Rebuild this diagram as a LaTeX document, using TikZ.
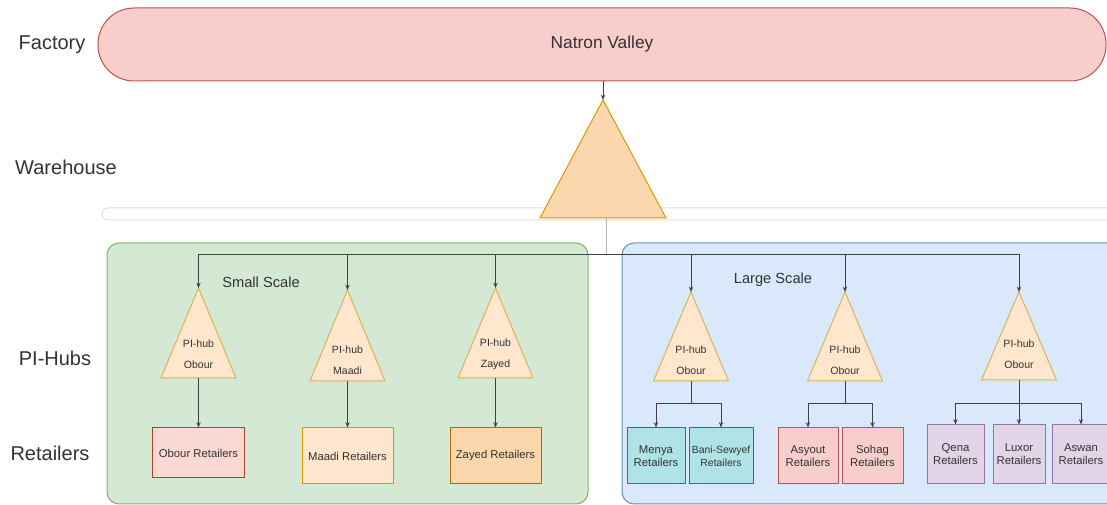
\documentclass[tikz,border=0pt]{standalone}
\usepackage{fontspec}
\setmainfont{Liberation Sans}
\usetikzlibrary{arrows.meta,calc}
\definecolor{txt}{HTML}{333333}
\definecolor{facF}{HTML}{F8CECC}\definecolor{facD}{HTML}{B85450}
\definecolor{whF}{HTML}{FAD7AC}\definecolor{whD}{HTML}{D79B00}
\definecolor{grF}{HTML}{D5E8D4}\definecolor{grD}{HTML}{82B366}
\definecolor{blF}{HTML}{DAE8FC}\definecolor{blD}{HTML}{6C8EBF}
\definecolor{hubF}{HTML}{FFE6CC}\definecolor{hubD}{HTML}{D6B656}
\definecolor{obF}{HTML}{FAD9D5}\definecolor{obD}{HTML}{AE4132}
\definecolor{maF}{HTML}{FFE6CC}\definecolor{maD}{HTML}{D79B00}
\definecolor{zaF}{HTML}{FAD7AC}\definecolor{zaD}{HTML}{B46504}
\definecolor{cyF}{HTML}{B0E3E6}\definecolor{cyD}{HTML}{0E8088}
\definecolor{rdF}{HTML}{F8CECC}\definecolor{rdD}{HTML}{B85450}
\definecolor{puF}{HTML}{E1D5E7}\definecolor{puD}{HTML}{9673A6}
\tikzset{
  lvl/.style={text=txt,font=\fontsize{15}{18}\selectfont},
  scalelbl/.style={text=txt,font=\fontsize{11}{13}\selectfont},
  hubtri/.style={fill=hubF,draw=hubD,line width=0.75pt,line join=miter},
  hubtxt/.style={text=txt,align=center,font=\fontsize{7.9}{15.75}\selectfont,inner sep=0pt},
  retail/.style={rectangle,line width=0.75pt,text=txt,align=center,inner sep=0pt,
    font=\fontsize{8.5}{9.75}\selectfont},
  lline/.style={draw=black!75,line width=0.75pt},
  conn/.style={lline,-{Stealth[length=4pt,width=3.2pt]}},
}
\begin{document}
\begin{tikzpicture}[x=0.75pt,y=-0.75pt]
\clip (0,0) rectangle (1107,505);
\fill[white] (0,0) rectangle (1107,505);
% containers
\draw[fill=grF,draw=grD,line width=0.75pt,rounded corners=9pt] (107,243) rectangle (588,504);
\draw[fill=blF,draw=blD,line width=0.75pt,rounded corners=9pt] (622,243) rectangle (1125,504);
% faint bar
\draw[draw=black!12,fill=white,line width=0.75pt,rounded corners=4.5pt] (102,208) rectangle (1120,220);
% factory
\node[rectangle,rounded corners=27pt,fill=facF,draw=facD,line width=0.75pt,
  minimum width=756pt,minimum height=54.75pt,text=txt,font=\fontsize{13}{15}\selectfont]
  (fac) at (602,44.5) {Natron Valley};
% level labels
\node[lvl] (lf) at (52,45) {Factory};
\node[lvl] (lw) at (66,167) {Warehouse};
\node[lvl] (lp) at (55,358) {PI-Hubs};
\node[lvl] (lr) at (50,453) {Retailers};
\node[scalelbl] (ss) at (261,282) {Small Scale};
\node[scalelbl] (ls) at (773,280) {Large Scale};
% warehouse
\draw[fill=whF,draw=whD,line width=0.75pt] (540,218) -- (603,100) -- (666,218) -- cycle;
\coordinate (wtop) at (603,100);
\coordinate (wbot) at (606,218);
\coordinate (bus) at (606,255);
% hubs
\foreach \n/\x/\a/\b/\ty/\t in {h1/198.5/288/378/354.5/Obour,h2/347.5/290/381/360.5/Maadi,h3/495.5/288/378/354.5/Zayed,
  h4/691/292/381/360.5/Obour,h5/845/292/381/360.5/Obour,h6/1019/292/380/354.5/Obour}{
  \draw[hubtri] (\x-37.5,\b) -- (\x,\a) -- (\x+37.5,\b) -- cycle;
  \coordinate (\n top) at (\x,\a);
  \coordinate (\n bot) at (\x,\b);
  \node[hubtxt] (\n) at (\x,\ty) {PI-hub\\\t};
}
% retailers small
\node[retail,fill=obF,draw=obD,minimum width=69pt,minimum height=37.5pt] (rob) at (198.5,453) {Obour Retailers};
\node[retail,fill=maF,draw=maD,minimum width=68.25pt,minimum height=42pt] (rma) at (347.5,456) {Maadi Retailers};
\node[retail,fill=zaF,draw=zaD,minimum width=68.25pt,minimum height=42pt] (rza) at (495.5,456) {Zayed Retailers};
% retailers large
\node[retail,fill=cyF,draw=cyD,minimum width=43.5pt,minimum height=42pt] (rme) at (656,456) {Menya\\Retailers};
\node[retail,fill=cyF,draw=cyD,minimum width=48pt,minimum height=42pt,font=\fontsize{7.8}{9.75}\selectfont] (rba) at (721,456) {Bani-Sewyef\\Retailers};
\node[retail,fill=rdF,draw=rdD,minimum width=45pt,minimum height=42pt] (ras) at (808,456) {Asyout\\Retailers};
\node[retail,fill=rdF,draw=rdD,minimum width=45.75pt,minimum height=42pt] (rso) at (872.5,456) {Sohag\\Retailers};
\node[retail,fill=puF,draw=puD,minimum width=42.75pt,minimum height=44.25pt] (rqe) at (955.5,454.5) {Qena\\Retailers};
\node[retail,fill=puF,draw=puD,minimum width=39pt,minimum height=44.25pt] (rlu) at (1019,454.5) {Luxor\\Retailers};
\node[retail,fill=puF,draw=puD,minimum width=43.5pt,minimum height=44.25pt] (raw) at (1081,454.5) {Aswan\\Retailers};
% connectors
\draw[conn] (fac.south -| wtop) -- (wtop);
\draw[lline,draw=black!30] (wbot) -- (bus);
\foreach \n in {h1,h2,h3,h4,h5,h6}{\draw[conn] (bus) -| (\n top);}
\draw[conn] (h1bot) -- (h1bot |- rob.north);
\draw[conn] (h2bot) -- (h2bot |- rma.north);
\draw[conn] (h3bot) -- (h3bot |- rza.north);
\coordinate (j4) at (691,404);
\coordinate (j5) at (845,404);
\coordinate (j6) at (1019,404);
\draw[lline] (h4bot) -- (j4);
\draw[lline] (h5bot) -- (j5);
\draw[lline] (h6bot) -- (j6);
\draw[conn] (j4) -| (rme.north);
\draw[conn] (j4) -| (rba.north);
\draw[conn] (j5) -| (ras.north);
\draw[conn] (j5) -| (rso.north);
\draw[conn] (j6) -| (rqe.north);
\draw[conn] (j6) -- (rlu.north);
\draw[conn] (j6) -| (raw.north);
\end{tikzpicture}
\end{document}
